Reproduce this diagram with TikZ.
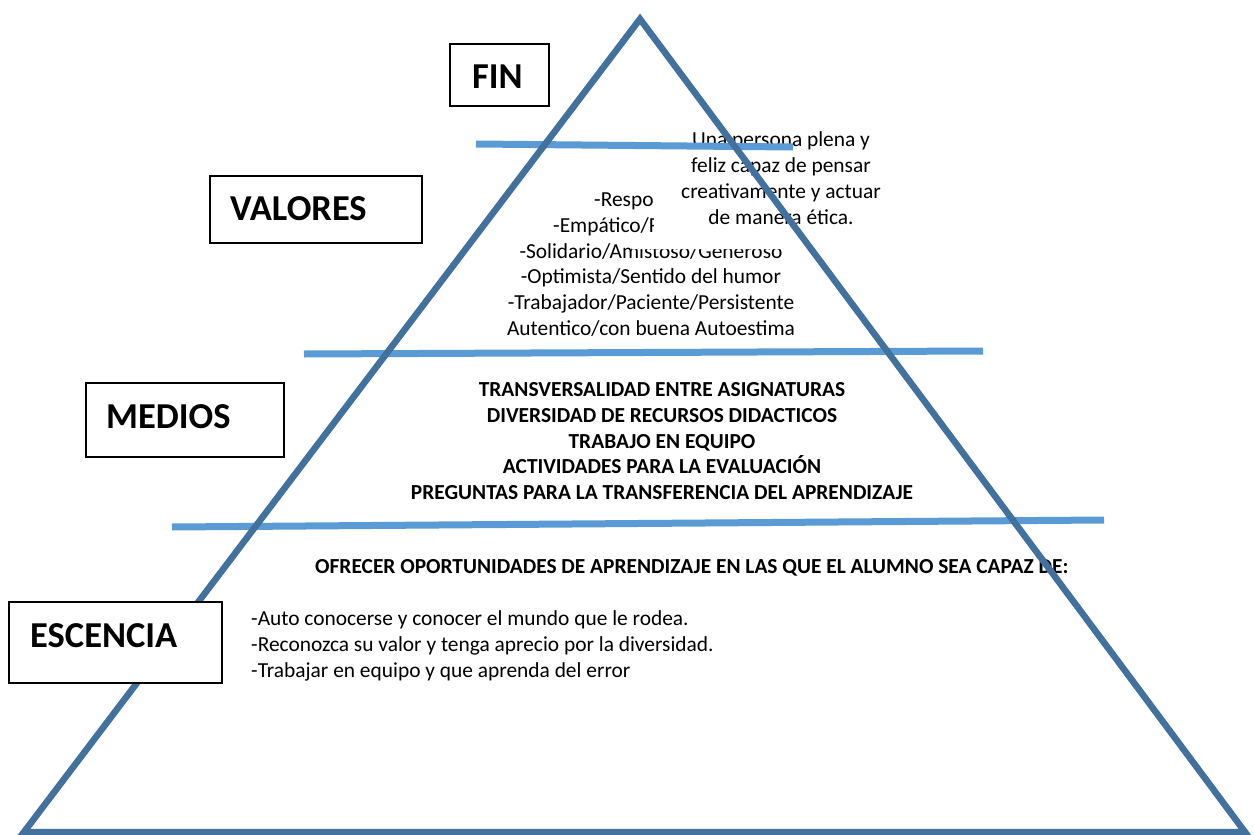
\documentclass[tikz,border=0pt]{standalone}
\usepackage{fontspec}
\setmainfont{Carlito}
\definecolor{triblue}{HTML}{41719C}
\definecolor{sepblue}{HTML}{5B9BD5}
\begin{document}
\begin{tikzpicture}[x=1pt,y=-1pt,
  tri/.style={draw=triblue, line width=6.5pt, line join=miter},
  sep/.style={draw=sepblue, line width=7pt},
  lblbox/.style={draw=black, line width=1.5pt, fill=white, inner sep=0pt, anchor=north west},
  lbltext/.style={font=\fontsize{36.5}{40}\selectfont\bfseries, inner sep=0pt, anchor=base west},
  reg/.style={font=\fontsize{21.4}{25}\selectfont, inner sep=0pt, anchor=base},
  regw/.style={font=\fontsize{21.4}{25}\selectfont, inner sep=0pt, anchor=base west},
  bld/.style={font=\fontsize{21.4}{25}\selectfont\bfseries, inner sep=0pt, anchor=base},
  bldw/.style={font=\fontsize{21.4}{25}\selectfont\bfseries, inner sep=0pt, anchor=base west},
]
\useasboundingbox (0,0) rectangle (1254,835);
\fill[white] (0,0) rectangle (1254,835);

% VALORES text
\node[regw] (v1) at (594,206.5) {-Respon};
\node[regw] (v2) at (553,232.3) {-Empático/R};
\node[reg] (v3) at (651,258.1) {-Solidario/Amistoso/Generoso};
\node[reg] (v4) at (651,283.9) {-Optimista/Sentido del humor};
\node[reg] (v5) at (651,309.7) {-Trabajador/Paciente/Persistente};
\node[reg] (v6) at (651,335.5) {Autentico/con buena Autoestima};

% MEDIOS text
\node[bld] (m1) at (662,396.5) {TRANSVERSALIDAD ENTRE ASIGNATURAS};
\node[bld] (m2) at (662,422.3) {DIVERSIDAD DE RECURSOS DIDACTICOS};
\node[bld] (m3) at (662,448.1) {TRABAJO EN EQUIPO};
\node[bld] (m4) at (662,473.9) {ACTIVIDADES PARA LA EVALUACIÓN};
\node[bld] (m5) at (662,499.7) {PREGUNTAS PARA LA TRANSFERENCIA DEL APRENDIZAJE};

% ESCENCIA text
\node[bldw] (e0) at (315,573.5) {OFRECER OPORTUNIDADES DE APRENDIZAJE EN LAS QUE EL ALUMNO SEA CAPAZ DE:};
\node[regw] (e1) at (251,625) {-Auto conocerse y conocer el mundo que le rodea.};
\node[regw] (e2) at (251,651) {-Reconozca su valor y tenga aprecio por la diversidad.};
\node[regw] (e3) at (251,677) {-Trabajar en equipo y que aprenda del error};

% FIN text box (white, covering)
\fill[white] (654,128) -- (900,128) -- (900,249) -- (632,249) -- (632,240) -- (654,240) -- cycle;
\node[reg] (f1) at (781,146) {Una persona plena y};
\node[reg] (f2) at (781,172) {feliz capaz de pensar};
\node[reg] (f3) at (781,198) {creativamente y actuar};
\node[reg] (f4) at (781,224) {de manera ética.};

% separator lines
\coordinate (s1a) at (476,144);
\coordinate (s1b) at (793,147);
\coordinate (s2a) at (304,354);
\coordinate (s2b) at (983,351);
\coordinate (s3a) at (172,527);
\coordinate (s3b) at (1104,520);
\draw[sep] (s1a) -- (s1b);
\draw[sep] (s2a) -- (s2b);
\draw[sep] (s3a) -- (s3b);

% triangle
\coordinate (apex) at (640,19);
\coordinate (bl) at (24,832);
\coordinate (br) at (1245,832);
\draw[tri] (apex) -- (bl) -- (br) -- cycle;

% labels
\node[lblbox, minimum width=99pt, minimum height=62pt] (finbox) at (449,43) {};
\node[lbltext] (fintext) at (472,88.5) {FIN};
\node[lblbox, minimum width=212pt, minimum height=67pt] (valbox) at (209,175) {};
\node[lbltext] (valtext) at (230,220) {VALORES};
\node[lblbox, minimum width=198pt, minimum height=74pt] (medbox) at (85,382) {};
\node[lbltext] (medtext) at (106,428) {MEDIOS};
\node[lblbox, minimum width=213pt, minimum height=81pt] (escbox) at (8,601) {};
\node[lbltext] (esctext) at (30,647) {ESCENCIA};
\end{tikzpicture}
\end{document}
